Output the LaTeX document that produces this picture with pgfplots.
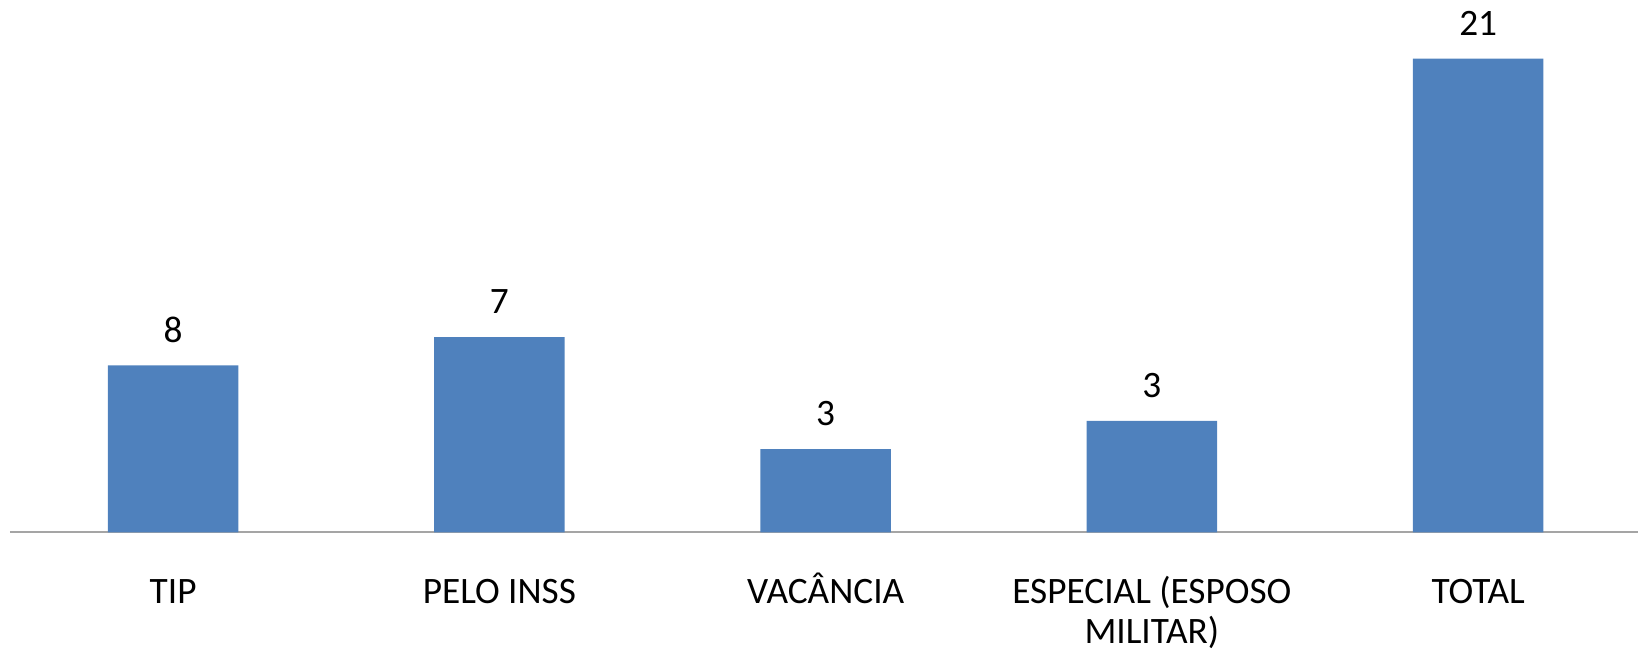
\documentclass[border=0pt]{standalone}
\usepackage{pgfplots}
\pgfplotsset{compat=1.18}
\usepackage{fontspec}
\setmainfont{Carlito}
\definecolor{barblue}{RGB}{79,129,189}
\definecolor{axisgray}{RGB}{165,165,165}

\begin{document}
\begin{tikzpicture}
\begin{axis}[
  scale only axis,
  width=488.9pt, height=159.9pt,
  xmin=-0.5, xmax=4.49,
  ymin=0, ymax=23.6,
  axis x line*=bottom,
  axis y line=none,
  x axis line style={draw=axisgray, line width=0.6pt, -},
  xtick=data,
  xtick style={draw=none},
  major tick length=0pt,
  xticklabels={\strut TIP, \strut PELO INSS, \strut\smash{VACÂNCIA},
    {\strut ESPECIAL (ESPOSO\\MILITAR)\strut}, \strut TOTAL},
  xticklabel style={align=center, anchor=north, inner sep=0pt, yshift=-13pt,
    font=\fontsize{11.2}{11.8}\selectfont},
  ytick=\empty,
  ybar, bar width=39.2pt,
  point meta=explicit symbolic,
  nodes near coords,
  every node near coord/.append style={anchor=base, yshift=7pt,
    font=\fontsize{11.2}{11.8}\selectfont, text=black},
  clip=false,
]
% alturas, rótulos como impressos
\addplot[fill=barblue, draw=none] coordinates {
  (0,7.40) [8]
  (1,8.66) [7]
  (2,3.69) [3]
  (3,4.94) [3]
  (4,21.0) [21]
};
\end{axis}
\path ([xshift=-3pt]current axis.south west);
\end{tikzpicture}
\end{document}
